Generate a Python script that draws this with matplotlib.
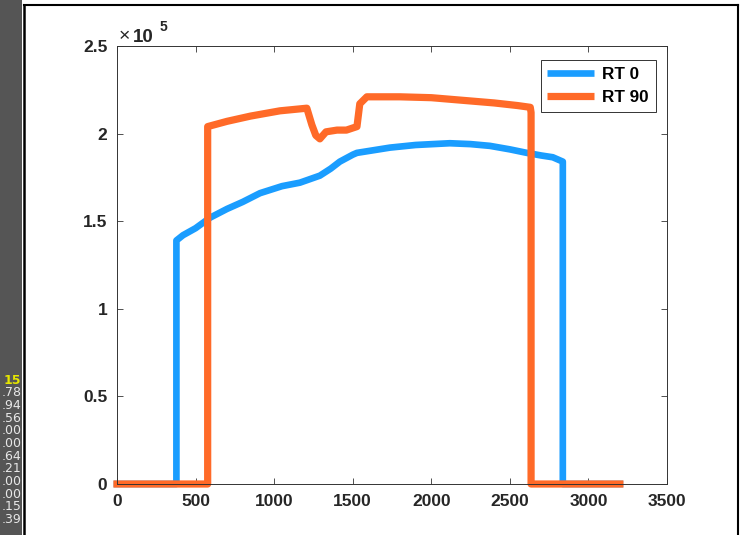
import matplotlib
matplotlib.use("Agg")
import matplotlib.pyplot as plt
from matplotlib.patches import Rectangle
from matplotlib.lines import Line2D

# Data (y in units of 1e5)
rt0_x = [0, 378, 378, 420, 500, 592, 700, 800, 910, 1050, 1164, 1291, 1360, 1418, 1501, 1527,
         1737, 1900, 2118, 2250, 2373, 2500, 2608, 2700, 2773, 2837, 2837, 3200]
rt0_y = [0, 0, 1.39, 1.42, 1.46, 1.52, 1.57, 1.61, 1.66, 1.70, 1.72, 1.76, 1.80, 1.84, 1.88, 1.89,
         1.92, 1.935, 1.945, 1.94, 1.93, 1.91, 1.89, 1.875, 1.865, 1.84, 0, 0]

rt90_x = [0, 577, 577, 700, 850, 1037, 1208, 1240, 1265, 1291, 1330, 1400, 1460, 1527, 1545,
          1590, 1800, 2000, 2200, 2400, 2550, 2630, 2635, 2635, 3200]
rt90_y = [0, 0, 2.04, 2.07, 2.10, 2.13, 2.145, 2.05, 1.99, 1.97, 2.01, 2.02, 2.02, 2.04, 2.17,
          2.21, 2.21, 2.205, 2.19, 2.175, 2.16, 2.15, 2.12, 0, 0]

series_labels = ["RT 0", "RT 90"]
xticks = [0, 500, 1000, 1500, 2000, 2500, 3000, 3500]
yticks = [0, 0.5, 1, 1.5, 2, 2.5]
ytick_labels = ["0", "0.5", "1", "1.5", "2", "2.5"]
side_numbers = ["15", ".78", ".94", ".56", ".00", ".00", ".64", ".21", ".00", ".00", ".15", ".39"]

blue = "#1a9dff"
orange = "#ff6a28"

plt.rcParams['font.family'] = ['Liberation Sans', 'DejaVu Sans']

fig = plt.figure(figsize=(7.49, 5.35), dpi=100)
W, H = 749, 535

def fx(px):
    return px / W

def fy(py):
    return 1 - py / H

# dark side strip
fig.patches.append(Rectangle((0, 0), fx(22), 1, transform=fig.transFigure,
                             facecolor="#555555", edgecolor="none", zorder=0))
# window frame
fig.add_artist(Line2D([fx(23.5), fx(23.5)], [0, fy(5)], color="black", lw=1.8, transform=fig.transFigure))
fig.add_artist(Line2D([fx(23.5), fx(738)], [fy(5), fy(5)], color="black", lw=1.5, transform=fig.transFigure))
fig.add_artist(Line2D([fx(738), fx(738)], [0, fy(5)], color="black", lw=1.5, transform=fig.transFigure))

for i, s in enumerate(side_numbers):
    fig.text(fx(21.5), fy(380 + i * 12.7), s, ha="right", va="center", fontsize=9,
             family="DejaVu Sans",
             color="#e6e600" if i == 0 else "#e8e8e8", fontweight="bold" if i == 0 else "normal")

ax = fig.add_axes([fx(117), fy(484), fx(667) - fx(117), fy(46) - fy(484)])
ax.plot(rt0_x, rt0_y, color=blue, lw=4.8, solid_joinstyle="round", label=series_labels[0], clip_on=False)
ax.plot(rt90_x, rt90_y, color=orange, lw=5.2, solid_joinstyle="round", label=series_labels[1], clip_on=False)

ax.set_xlim(0, 3500)
ax.set_ylim(0, 2.5)
ax.set_xticks(xticks)
ax.set_xticklabels([str(t) for t in xticks])
ax.set_yticks(yticks)
ax.set_yticklabels(ytick_labels)
ax.tick_params(direction="in", top=True, right=True, length=4, width=0.6, color="#333333",
               labelsize=12.5, pad=7)
for lab in ax.get_xticklabels() + ax.get_yticklabels():
    lab.set_fontweight("bold")
    lab.set_color("#262626")
for sp in ax.spines.values():
    sp.set_linewidth(0.7)
    sp.set_color("#333333")

fig.text(fx(119), fy(41.5), "×", fontsize=14, color="#262626", va="baseline", ha="left")
fig.text(fx(133), fy(41.5), "10", fontsize=13.5, fontweight="bold", color="#262626", va="baseline", ha="left")
fig.text(fx(160), fy(31), "5", fontsize=10, fontweight="bold", color="#262626", va="baseline", ha="left")

leg = ax.legend(loc="upper right", prop={"weight": "bold", "size": 12.3},
                fancybox=False, framealpha=1, edgecolor="#333333", handlelength=2.75,
                handletextpad=0.45, borderpad=0.4, labelspacing=0.5, borderaxespad=0)
leg.get_frame().set_linewidth(0.7)
for h in leg.get_lines():
    h.set_solid_capstyle("butt")
leg.set_bbox_to_anchor((fx(655.5), fy(60)), transform=fig.transFigure)

fig.savefig("out.png", dpi=100)
